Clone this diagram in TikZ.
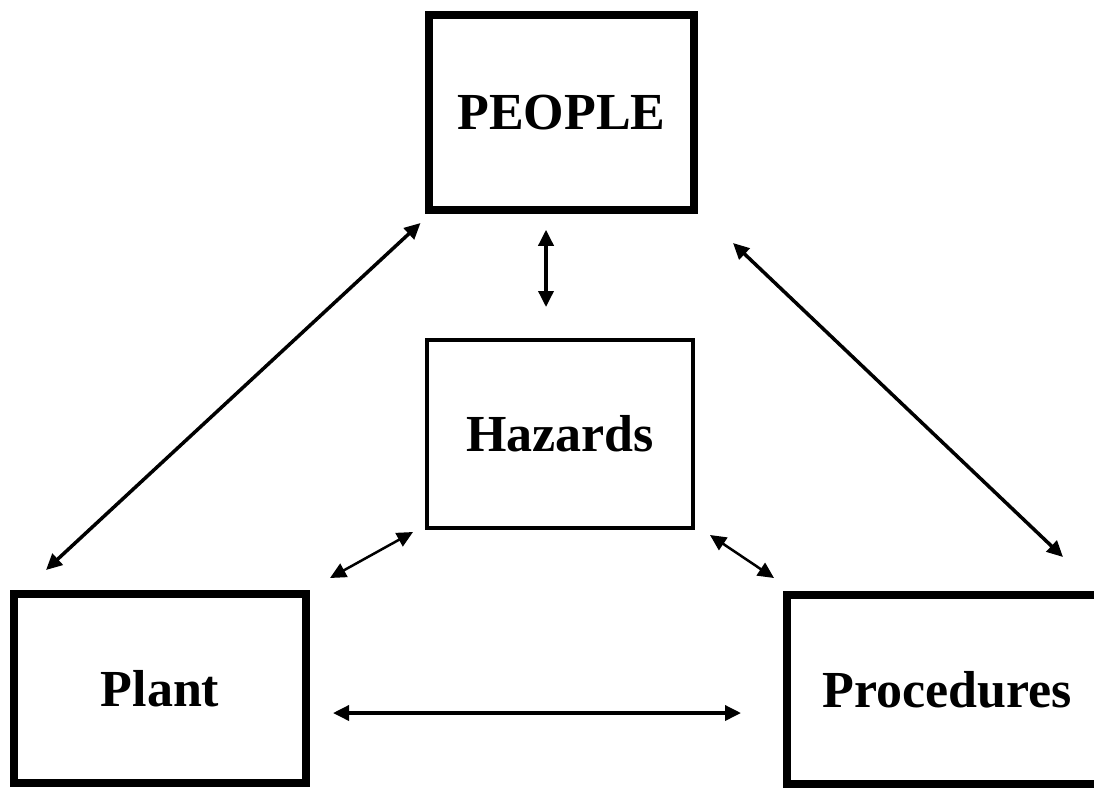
\documentclass[tikz,border=0pt]{standalone}
\usepackage{fontspec}
\setmainfont{Liberation Serif}
\usetikzlibrary{arrows.meta}
\begin{document}
\begin{tikzpicture}[x=1pt,y=-1pt,
  box/.style={draw=black, inner sep=0pt, font=\fontsize{52}{60}\selectfont\bfseries},
  heavybox/.style={box, line width=7.5pt},
  lightbox/.style={box, line width=4pt},
  link/.style={line width=3.5pt, {Triangle[length=16pt,width=15pt]}-{Triangle[length=16pt,width=15pt]}}]
  \clip (0,0) rectangle (1094,788);
  \fill[white] (0,0) rectangle (1094,788);

  % the four boxes
  \node[heavybox, minimum width=265pt, minimum height=195pt] (people) at (561.5,112.5) {PEOPLE};
  \node[lightbox, minimum width=266pt, minimum height=188pt] (hazards) at (560,434) {Hazards};
  \node[heavybox, minimum width=292pt, minimum height=189pt] (plant) at (160,688.5) {Plant};
  \node[heavybox, minimum width=320pt, minimum height=189pt] (procedures) at (947,689.5) {Procedures};

  % two-way links between the boxes
  \draw[link] ([xshift=-4.75pt,yshift=-9.25pt]people.south west) -- ([xshift=35.75pt,yshift=20.25pt]plant.north west);
  \draw[link] ([xshift=-15.5pt,yshift=-16pt]people.south) -- ([xshift=-14pt,yshift=31pt]hazards.north);
  \draw[link] ([xshift=35.25pt,yshift=-29.25pt]people.south east) -- ([xshift=279.75pt,yshift=34.25pt]procedures.north west);
  \draw[link, line width=2.5pt] ([xshift=-12pt,yshift=-2pt]hazards.south west) -- ([xshift=20.25pt,yshift=12.25pt]plant.north east);
  \draw[link, line width=2.5pt] ([xshift=15pt,yshift=-5pt]hazards.south east) -- ([xshift=-9.25pt,yshift=13.25pt]procedures.north west);
  \draw[link] ([xshift=23.25pt,yshift=-24.5pt]plant.east) -- ([xshift=-42.25pt,yshift=-23.5pt]procedures.west);
\end{tikzpicture}
\end{document}
